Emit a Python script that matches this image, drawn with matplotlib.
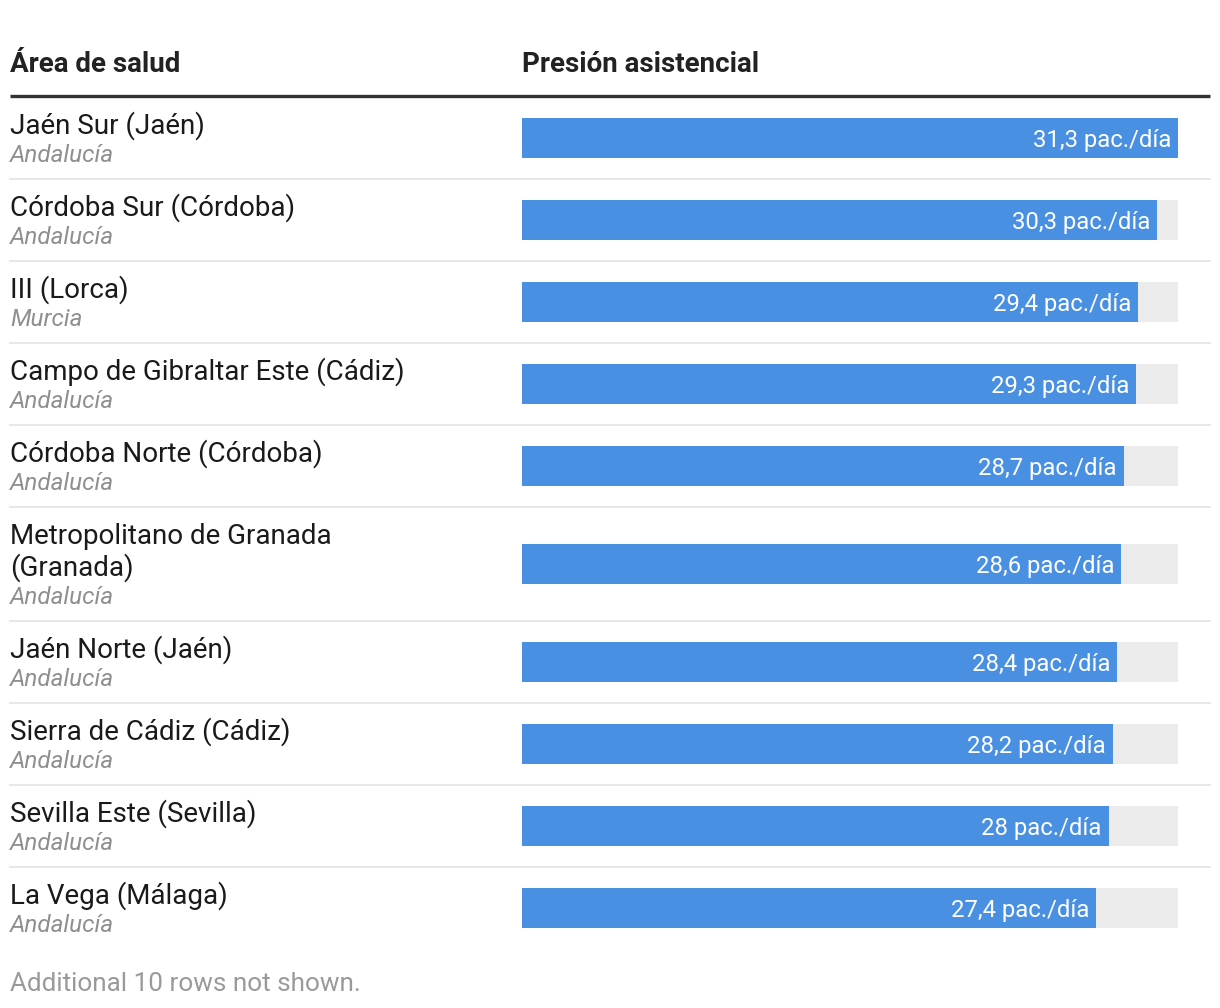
import matplotlib
matplotlib.use("Agg")
import matplotlib.pyplot as plt

plt.rcParams['font.family'] = ['Roboto', 'DejaVu Sans']

# data
areas = ["Jaén Sur (Jaén)", "Córdoba Sur (Córdoba)", "III (Lorca)",
         "Campo de Gibraltar Este (Cádiz)", "Córdoba Norte (Córdoba)",
         "Metropolitano de Granada\n(Granada)", "Jaén Norte (Jaén)",
         "Sierra de Cádiz (Cádiz)", "Sevilla Este (Sevilla)", "La Vega (Málaga)"]
regions = ["Andalucía", "Andalucía", "Murcia", "Andalucía", "Andalucía",
           "Andalucía", "Andalucía", "Andalucía", "Andalucía", "Andalucía"]
presion = [31.3, 30.3, 29.4, 29.3, 28.7, 28.6, 28.4, 28.2, 28.0, 27.4]
labels = ["31,3 pac./día", "30,3 pac./día", "29,4 pac./día", "29,3 pac./día",
          "28,7 pac./día", "28,6 pac./día", "28,4 pac./día", "28,2 pac./día",
          "28 pac./día", "27,4 pac./día"]
max_val = max(presion)

W, H = 1220, 1008
fig = plt.figure(figsize=(W / 100, H / 100), dpi=100)
fig.patch.set_facecolor('white')

ax = fig.add_axes([0, 0, 1, 1])
ax.set_xlim(0, W)
ax.set_ylim(H, 0)
ax.axis('off')

# bar axes: x in data units, y in pixel rows
bx0, bx1 = 522, 1178
axb = fig.add_axes([bx0 / W, 0, (bx1 - bx0) / W, 1])
axb.set_xlim(0, max_val)
axb.set_ylim(H, 0)
axb.axis('off')

# header
ax.text(10, 65, "Área de salud", fontsize=20, fontweight='bold', color='#222222', va='center')
ax.text(bx0, 65, "Presión asistencial", fontsize=20, fontweight='bold', color='#222222', va='center')
ax.plot([10, 1210], [96, 96], color='#333333', lw=2.4, solid_capstyle='butt')

top = 97
centers = []
for i, name in enumerate(areas):
    lines = name.split('\n')
    rh = 82 + 32 * (len(lines) - 1)
    for k, ln in enumerate(lines):
        ax.text(10, top + 29 + 32 * k, ln, fontsize=20, color='#1a1a1a', va='center')
    ax.text(10, top + 30 + 32 * (len(lines) - 1) + 28, regions[i], fontsize=17.5,
            style='italic', color='#8f8f8f', va='center')
    centers.append(top + rh / 2)
    if i < len(areas) - 1:
        ax.plot([10, 1210], [top + rh, top + rh], color='#e8e8e8', lw=1.5)
    top += rh

axb.barh(centers, [max_val] * len(presion), height=40, color='#ebebeb', linewidth=0)
axb.barh(centers, presion, height=40, color='#4a90e2', linewidth=0)
for c, v, lab in zip(centers, presion, labels):
    axb.annotate(lab, (v, c + 2), xytext=(-7, 0), textcoords='offset pixels',
                 ha='right', va='center', fontsize=17.2, color='white')

ax.text(10, 984, "Additional 10 rows not shown.", fontsize=18.8, color='#9a9a9a', va='center')

fig.savefig("out.png", dpi=100)
